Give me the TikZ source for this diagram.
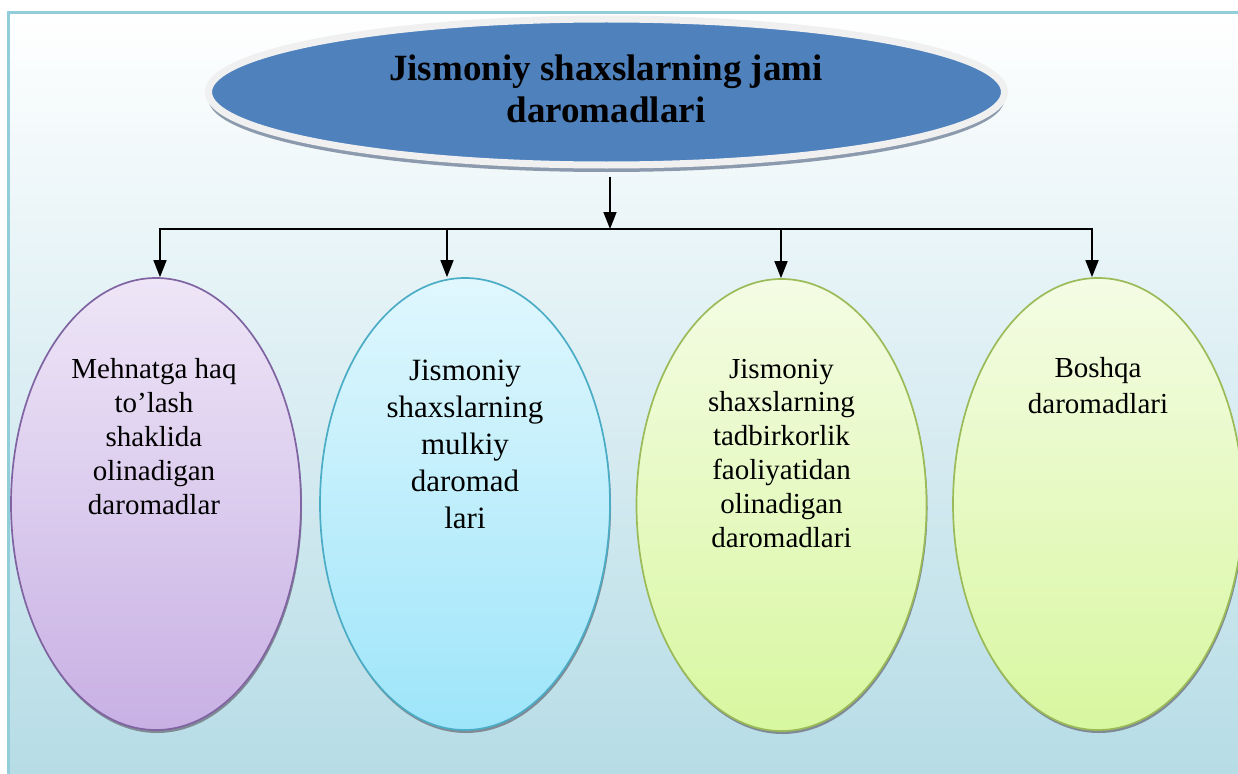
\documentclass[tikz,border=0pt]{standalone}
\usepackage{fontspec}
\setmainfont{Liberation Serif}
\usetikzlibrary{shapes.geometric,shadows,arrows.meta}
\definecolor{framec}{HTML}{92CDDC}
\definecolor{bgbot}{HTML}{B6DCE6}
\definecolor{titleblue}{HTML}{4F81BD}
\definecolor{rimc}{HTML}{F0F0F0}
\definecolor{rimshadow}{HTML}{8C9AAE}
\definecolor{purpT}{HTML}{EEE6F7}
\definecolor{purpB}{HTML}{C8B0E4}
\definecolor{purpD}{HTML}{8064A2}
\definecolor{cyanT}{HTML}{E0F7FD}
\definecolor{cyanB}{HTML}{9EE5FA}
\definecolor{cyanD}{HTML}{4BACC6}
\definecolor{grnT}{HTML}{F4FCE4}
\definecolor{grnB}{HTML}{D8F7A0}
\definecolor{grnD}{HTML}{9BBB59}
\definecolor{shadc}{HTML}{7F8A94}
\tikzset{
  lowell/.style={ellipse, inner sep=0pt, line width=1.7pt,
    minimum width=290pt, minimum height=452pt,
    drop shadow={shadow xshift=1pt, shadow yshift=-3pt, fill=shadc, opacity=1}},
  purpell/.style={lowell, draw=purpD, top color=purpT, bottom color=purpB},
  cyanell/.style={lowell, draw=cyanD, top color=cyanT, bottom color=cyanB},
  grnell/.style={lowell, draw=grnD, top color=grnT, bottom color=grnB},
  titleell/.style={ellipse, inner sep=0pt, fill=titleblue, draw=rimc, line width=7pt,
    minimum width=796pt, minimum height=146pt,
    drop shadow={shadow xshift=0pt, shadow yshift=-7pt, fill=rimshadow, opacity=1}},
  lowtext/.style={align=center, anchor=base, inner sep=0pt, font=\fontsize{29}{34}\selectfont},
  conn/.style={-{Triangle[length=17pt,width=13pt]}, line width=1.6pt, black},
  hline/.style={line width=1.6pt, black, line cap=rect},
}
\begin{document}
\begin{tikzpicture}[x=1pt,y=-1pt]
\useasboundingbox (0,0) rectangle (1238,773);
\clip (0,0) rectangle (1238,773);
\fill[white] (0,0) rectangle (1238,773);
\shade[top color=white, bottom color=bgbot] (8.5,12.5) rectangle (1240,775);
\draw[framec, line width=3pt] (8.5,775) -- (8.5,12.5) -- (1240,12.5);

% top ellipse
\node[titleell] (top) at (606.5,92) {};
\node[align=center, anchor=base, inner sep=0pt, font=\bfseries\fontsize{37}{42}\selectfont] (toptext) at (606,122) {Jismoniy shaxslarning jami\\daromadlari};

% lower ellipses
\node[purpell] (e1) at (156,504) {};
\node[cyanell] (e2) at (465,504) {};
\node[grnell] (e3) at (781.5,505) {};
\node[grnell] (e4) at (1098,504) {};

\node[lowtext] (t1) at (154,514) {Mehnatga haq\\to’lash\\shaklida\\olinadigan\\daromadlar};
\node[lowtext, font=\fontsize{31}{37}\selectfont] (t2) at (465,528) {Jismoniy\\shaxslarning\\mulkiy\\daromad\\lari};
\node[lowtext, font=\fontsize{29}{33.8}\selectfont] (t3) at (781.5,547) {Jismoniy\\shaxslarning\\tadbirkorlik\\faoliyatidan\\olinadigan\\daromadlari};
\node[lowtext, font=\fontsize{29}{36}\selectfont] (t4) at (1098,413) {Boshqa\\daromadlari};

% connectors
\coordinate (jm) at (610,229);
\coordinate (hl) at (160,229);
\coordinate (d2) at (447,229);
\coordinate (d3) at (781,229);
\coordinate (hr) at (1092,229);
\draw[hline] (hl) -- (hr);
\draw[conn, shorten <=8pt] (top.south -| jm) -- (jm);
\draw[conn] (hl) -- (hl |- e1.north);
\draw[conn] (d2) -- (d2 |- e2.north);
\draw[conn] (d3) -- (d3 |- e3.north);
\draw[conn] (hr) -- (hr |- e4.north);
\end{tikzpicture}
\end{document}
